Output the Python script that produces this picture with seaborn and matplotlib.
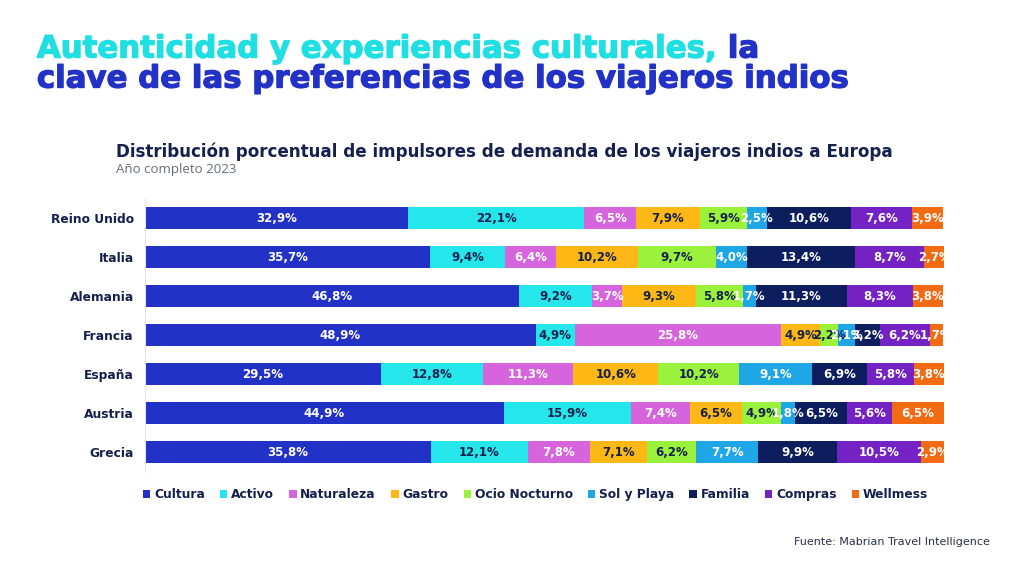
import numpy as np
import matplotlib.pyplot as plt
import matplotlib.patheffects as pe
from matplotlib.patches import Patch
import seaborn as sns
import pandas as pd

# data
paises = ["Reino Unido", "Italia", "Alemania", "Francia", "España", "Austria", "Grecia"]
categorias = ["Cultura", "Activo", "Naturaleza", "Gastro", "Ocio Nocturno",
              "Sol y Playa", "Familia", "Compras", "Wellmess"]
cultura = [32.9, 35.7, 46.8, 48.9, 29.5, 44.9, 35.8]
activo = [22.1, 9.4, 9.2, 4.9, 12.8, 15.9, 12.1]
naturaleza = [6.5, 6.4, 3.7, 25.8, 11.3, 7.4, 7.8]
gastro = [7.9, 10.2, 9.3, 4.9, 10.6, 6.5, 7.1]
ocio = [5.9, 9.7, 5.8, 2.2, 10.2, 4.9, 6.2]
sol_playa = [2.5, 4.0, 1.7, 2.1, 9.1, 1.8, 7.7]
familia = [10.6, 13.4, 11.3, 3.2, 6.9, 6.5, 9.9]
compras = [7.6, 8.7, 8.3, 6.2, 5.8, 5.6, 10.5]
wellmess = [3.9, 2.7, 3.8, 1.7, 3.8, 6.5, 2.9]

colores = ["#2231c6", "#25e6ea", "#d664dc", "#fdb815", "#9bf23c",
           "#1ea6e6", "#0c1e5e", "#7422c4", "#f26a12"]
texto_claro = [True, False, True, False, False, True, True, True, True]

df = pd.DataFrame(
    np.array([cultura, activo, naturaleza, gastro, ocio, sol_playa,
              familia, compras, wellmess]).T,
    columns=categorias)
df["pais"] = paises
acum = df[categorias].cumsum(axis=1)

navy = "#14204d"
cian = "#1fdfe3"
azul = "#2231c6"

fig = plt.figure(figsize=(10.24, 5.76), dpi=100)
fig.patch.set_facecolor("white")
ax = fig.add_axes([0.1416, 0.181, 0.7803, 0.4744])

# stacked bars: draw cumulative totals from the last category backwards
for i in range(len(categorias) - 1, -1, -1):
    sns.barplot(x=acum[categorias[i]], y=df["pais"], order=paises, orient="h",
                color=colores[i], width=0.56, saturation=1, ax=ax,
                edgecolor="none", linewidth=0)

# segment labels
for i, cat in enumerate(categorias):
    centros = acum[cat] - df[cat] / 2
    for j, (v, c) in enumerate(zip(df[cat], centros)):
        ax.text(c, j, f"{v:.1f}".replace(".", ",") + "%", ha="center", va="center",
                fontsize=8.5, fontweight="bold",
                color="white" if texto_claro[i] else navy)

ax.set_xlim(0, 100)
ax.set_ylim(6.5, -0.5)
ax.set_xlabel("")
ax.set_ylabel("")
ax.set_xticks([])
ax.tick_params(axis="y", length=0, pad=8)
for lab in ax.get_yticklabels():
    lab.set_fontweight("bold")
    lab.set_fontsize(8.8)
    lab.set_color(navy)
for s in ["top", "right", "bottom"]:
    ax.spines[s].set_visible(False)
ax.spines["left"].set_color("#dfe4ee")
ax.spines["left"].set_linewidth(0.8)
ax.set_facecolor("none")

# legend
handles = [Patch(facecolor=c, edgecolor="none") for c in colores]
fig.legend(handles, categorias, loc="center", bbox_to_anchor=(0.523, 0.141),
           ncol=9, frameon=False, handlelength=0.6, handleheight=0.6,
           handletextpad=0.3, columnspacing=1.25,
           prop={"weight": "bold", "size": 8.8}, labelcolor=navy)

# title in two colours, sized so the second line is ~820 px wide
fig.canvas.draw()
r = fig.canvas.get_renderer()
tsize = 24
t2 = fig.text(0.036, 0.848, "clave de las preferencias de los viajeros indios", color=azul,
              fontsize=tsize, fontweight="bold", va="baseline")
w = t2.get_window_extent(renderer=r).width
tsize = tsize * 812 / w
t2.set_fontsize(tsize)
t1 = fig.text(0.036, 0.900, "Autenticidad y experiencias culturales,", color=cian,
              fontsize=tsize, fontweight="bold", va="baseline")
bb = t1.get_window_extent(renderer=r)
t3 = fig.text(bb.x1 / fig.bbox.width, 0.900, " la", color=azul,
              fontsize=tsize, fontweight="bold", va="baseline")
for t, c in [(t1, cian), (t2, azul), (t3, azul)]:
    t.set_path_effects([pe.withStroke(linewidth=0.9, foreground=c)])

fig.text(0.113, 0.727, "Distribución porcentual de impulsores de demanda de los viajeros indios a Europa",
         color=navy, fontsize=12.1, fontweight="bold", va="baseline")
fig.text(0.113, 0.700, "Año completo 2023", color="#666a78", fontsize=9.5,
         family="Open Sans", va="baseline")

fig.text(0.967, 0.054, "Fuente: Mabrian Travel Intelligence", color="#2a2f4a",
         fontsize=8, ha="right", va="baseline")

fig.savefig("out.png", dpi=100)
